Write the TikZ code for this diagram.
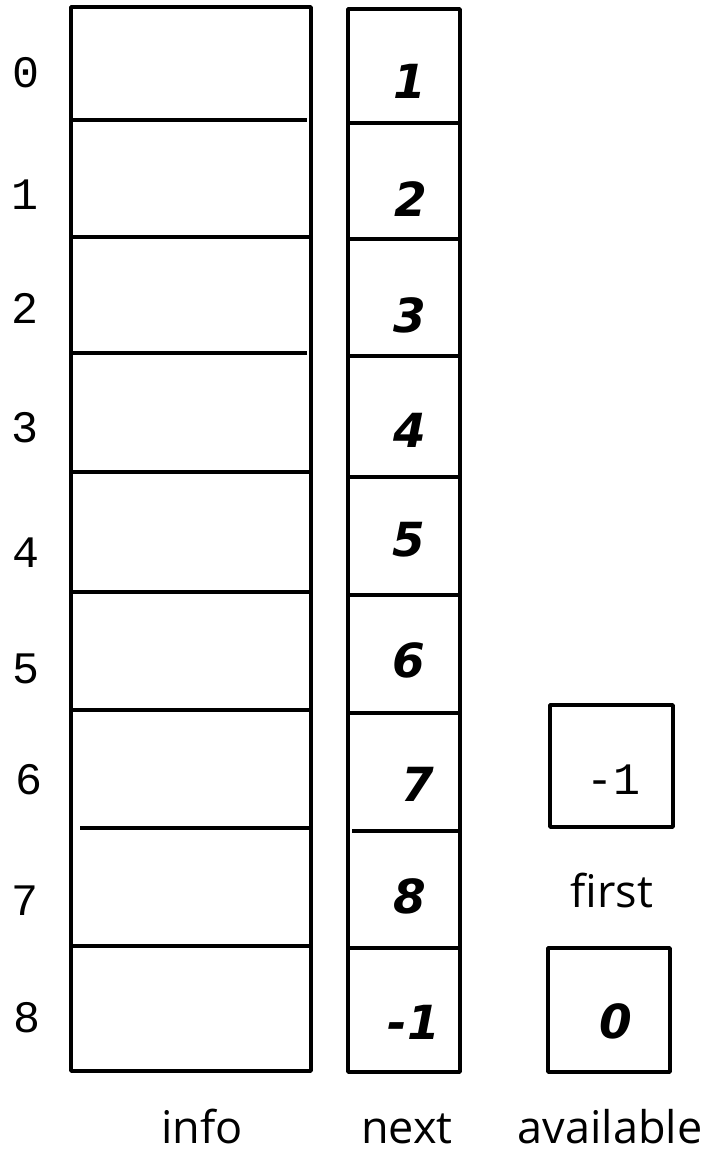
\documentclass[tikz,border=0pt]{standalone}
\usepackage{fontspec}
\setmainfont{Open Sans}
\newfontfamily\monof{Liberation Mono}
\newfontfamily\boldf{DejaVu Sans}
\begin{document}
\begin{tikzpicture}[x=1pt,y=-1pt,
  box/.style={line width=3.6pt, line join=round},
  sep/.style={line width=3.6pt},
  idx/.style={font=\monof\fontsize{45}{50}\selectfont, inner sep=0pt},
  val/.style={font=\boldf\bfseries\itshape\fontsize{47}{52}\selectfont, inner sep=0pt},
  lbl/.style={font=\fontsize{45}{50}\selectfont, inner sep=0pt, anchor=base}]
\useasboundingbox (0,0) rectangle (707,1155);
% info column
\draw[box] (71,7) rectangle (311,1071);
\draw[sep] (73,120) -- (307,120);
\draw[sep] (73,237) -- (309,237);
\draw[sep] (73,353) -- (307,353);
\draw[sep] (73,472) -- (311,472);
\draw[sep] (73,592) -- (311,592);
\draw[sep] (73,710) -- (311,710);
\draw[sep] (80,828) -- (310,828);
\draw[sep] (73,946) -- (309,946);
% next column
\draw[box] (348,9) rectangle (460,1072);
\draw[sep] (348,123) -- (460,123);
\draw[sep] (348,239) -- (460,239);
\draw[sep] (348,356) -- (460,356);
\draw[sep] (348,477) -- (458,477);
\draw[sep] (348,595) -- (458,595);
\draw[sep] (348,713) -- (460,713);
\draw[sep] (352,831) -- (460,831);
\draw[sep] (348,948) -- (460,948);
% index labels
\node[idx] (i0) at (26,73) {0};
\node[idx] (i1) at (25,195) {1};
\node[idx] (i2) at (25,308) {2};
\node[idx] (i3) at (25,428) {3};
\node[idx] (i4) at (26,553) {4};
\node[idx] (i5) at (26,669) {5};
\node[idx] (i6) at (29,780) {6};
\node[idx] (i7) at (25,901) {7};
\node[idx] (i8) at (27,1018) {8};
% next values
\node[val] (n0) at (410,81) {1};
\node[val] (n1) at (411,199) {2};
\node[val] (n2) at (410,315) {3};
\node[val] (n3) at (410,430) {4};
\node[val] (n4) at (409,540) {5};
\node[val] (n5) at (409,660) {6};
\node[val] (n6) at (418,784) {7};
\node[val] (n7) at (410,896) {8};
\node[val] (n8) at (414,1022) {-1};
% first / available
\node[draw, box, minimum width=123pt, minimum height=122pt, inner sep=0pt] (first) at (611.5,766) {};
\node[idx] (firstv) at (613,780) {-1};
\node[lbl] (firstl) at (612,907) {first};
\node[draw, box, minimum width=122pt, minimum height=124pt, inner sep=0pt] (avail) at (609,1010) {};
\node[val] (availv) at (616,1021) {0};
% column labels
\node[lbl] (info) at (202,1143) {info};
\node[lbl] (next) at (407,1143) {next};
\node[lbl] (available) at (610,1143) {available};
\end{tikzpicture}
\end{document}
